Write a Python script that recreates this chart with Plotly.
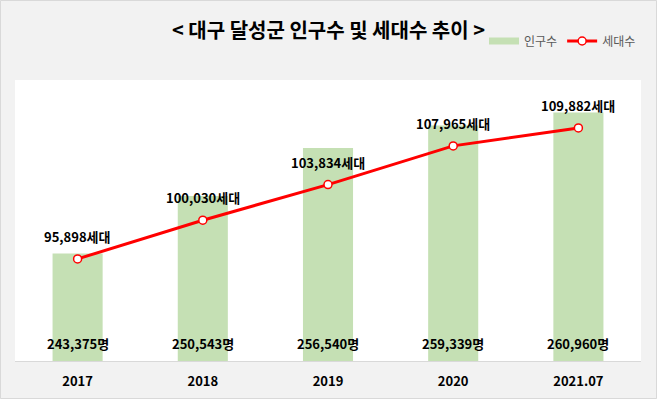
import plotly.graph_objects as go

categories = ["2017", "2018", "2019", "2020", "2021.07"]
population = [243375, 250543, 256540, 259339, 260960]
households = [95898, 100030, 103834, 107965, 109882]

W, H = 657, 399
ML, MR, MT, MB = 15, 16, 80, 38
pw = W - ML - MR
ph = H - MT - MB

FONT = "Noto Sans CJK KR"
GREEN = "#c5e0b4"
RED = "#ff0000"

fig = go.Figure()
fig.add_trace(go.Bar(
    x=categories, y=population, name="인구수",
    marker=dict(color=GREEN, line=dict(width=0)),
    width=0.4, yaxis="y", showlegend=False,
))
# legend-only entry so the swatch is a wide bar like the reference
fig.add_trace(go.Scatter(
    x=[None], y=[None], name="인구수", mode="lines",
    line=dict(color=GREEN, width=7), showlegend=True, hoverinfo="skip",
))
fig.add_trace(go.Scatter(
    x=categories, y=households, name="세대수", yaxis="y2",
    mode="lines+markers",
    line=dict(color=RED, width=3),
    marker=dict(symbol="circle", size=8, color="white", line=dict(color=RED, width=1.5)),
))

annotations = []
for i, p in enumerate(population):
    annotations.append(dict(
        x=i, y=0, xref="x", yref="paper", text=f"{p:,}명", showarrow=False,
        yanchor="bottom", yshift=6,
        font=dict(family=FONT, size=13, color="#000000", weight="bold"),
    ))
for i, h in enumerate(households):
    annotations.append(dict(
        x=i, y=h, xref="x", yref="y2", text=f"{h:,}세대", showarrow=False,
        yanchor="bottom", yshift=11,
        font=dict(family=FONT, size=13, color="#000000", weight="bold"),
    ))
annotations.append(dict(
    x=0.5, y=1 + (MT - 30) / ph, xref="paper", yref="paper",
    text="< 대구 달성군 인구수 및 세대수 추이 >", showarrow=False,
    xanchor="center", yanchor="middle",
    font=dict(family=FONT, size=20, color="#000000", weight="bold"),
))

shapes = [dict(
    type="rect", xref="paper", yref="paper",
    x0=(-ML + 0.5) / pw, x1=1 + (MR - 0.5) / pw,
    y0=(-MB + 0.5) / ph, y1=1 + (MT - 0.5) / ph,
    line=dict(color="#d9d9d9", width=1), fillcolor="rgba(0,0,0,0)", layer="below",
)]

fig.update_layout(
    width=W, height=H,
    margin=dict(l=ML, r=MR, t=MT, b=MB, pad=0, autoexpand=False),
    paper_bgcolor="#f2f2f2", plot_bgcolor="#ffffff",
    font=dict(family=FONT, size=12, color="#000000"),
    showlegend=True,
    legend=dict(
        orientation="h", x=1, xanchor="right", y=1 + (MT - 41) / ph, yanchor="middle",
        font=dict(family=FONT, size=12, color="#595959"),
        bgcolor="rgba(0,0,0,0)", itemwidth=30, tracegroupgap=0,
    ),
    xaxis=dict(
        type="category", range=[-0.5, len(categories) - 0.5],
        showgrid=False, zeroline=False, automargin=False,
        showline=True, linecolor="#d9d9d9", linewidth=1,
        ticks="", ticklabelstandoff=8,
        tickfont=dict(family=FONT, size=13, color="#000000", weight="bold"),
        fixedrange=True,
    ),
    yaxis=dict(range=[230000, 265000], visible=False, showgrid=False, zeroline=False,
               automargin=False),
    yaxis2=dict(range=[85000, 115000], overlaying="y", side="right", visible=False,
                showgrid=False, zeroline=False, automargin=False),
    annotations=annotations,
    shapes=shapes,
)

fig.write_html("out.html", config={"displayModeBar": False},
               post_script="document.body.style.margin='0';")
